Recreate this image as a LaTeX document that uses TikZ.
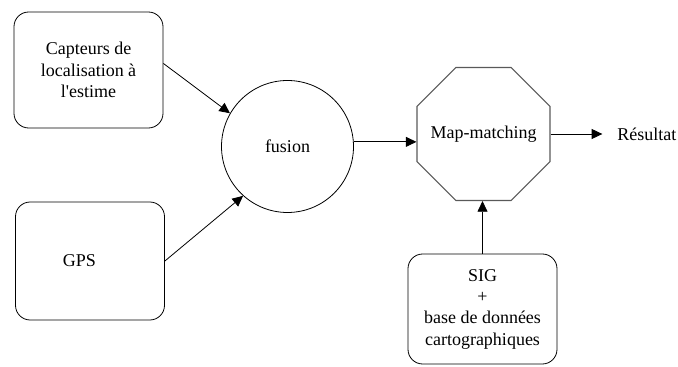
\documentclass[tikz,border=0pt]{standalone}
\usepackage{fontspec}
\setmainfont{Liberation Serif}
\usepackage{tikz}
\usetikzlibrary{arrows.meta,shapes.geometric}

\begin{document}
\begin{tikzpicture}[x=0.75pt,y=0.75pt,
  font=\fontsize{13.5}{16}\selectfont,
  box/.style={draw,line width=0.6pt,rounded corners=11pt,align=center,
    minimum width=111.75pt,minimum height=87pt},
  arr/.style={line width=0.6pt,-{Triangle[length=8pt,width=7.5pt]}}]
  \useasboundingbox (0,0) rectangle (678,367);

  % inputs
  \node[box] (cap) at (88.5,297) {Capteurs de\\localisation à\\l\textquotesingle estime};
  \node[box,minimum height=88.5pt] (gps) at (90,106) {GPS\hspace*{16pt}};

  % fusion and map-matching
  \node[draw,circle,line width=0.6pt,minimum size=99pt] (fusion) at (287.5,220.5) {fusion};
  \node[draw=black!65,line width=0.8pt,regular polygon,regular polygon sides=8,
    minimum size=108pt,inner sep=0pt,label=center:Map-matching] (map) at (483.5,233) {};

  % map database
  \node[box,minimum height=82.5pt] (sig) at (482.5,58)
    {SIG\\+\\base de données\\cartographiques};

  \node[anchor=west,inner sep=0pt] (res) at (617,233) {Résultat};

  \draw[arr] (cap.5) -- (fusion.150);
  \draw[arr] (gps.east) -- (fusion.228);
  \draw[arr] (fusion.4) -- (fusion.4 -| map.west);
  \draw[arr] (sig.north) -- (sig.north |- map.south);
  \draw[arr,shorten >=11pt] (map.east) -- (res.west);

\end{tikzpicture}
\end{document}
